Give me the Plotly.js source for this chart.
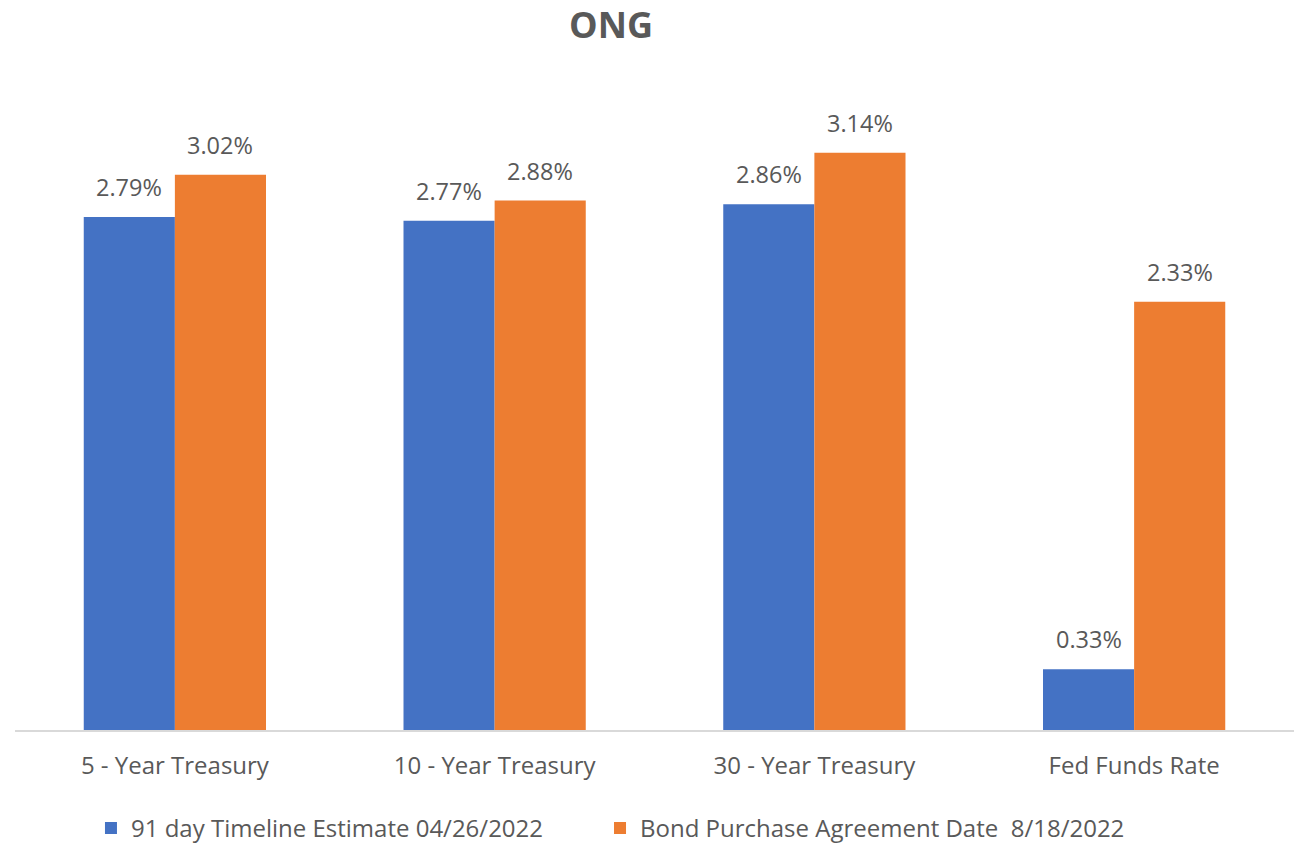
<!DOCTYPE html>
<html>
<head>
<meta charset="utf-8">
<script src="https://cdn.plot.ly/plotly-3.0.1.min.js"></script>
<style>html,body{margin:0;padding:0;background:#fff;}#chart{width:1296px;height:845px;}</style>
</head>
<body>
<div id="chart"></div>
<script>
const categories = ["5 - Year Treasury", "10 - Year Treasury", "30 - Year Treasury", "Fed Funds Rate"];
const estimateValues = [0.0279, 0.0277, 0.0286, 0.0033];
const agreementValues = [0.0302, 0.0288, 0.0314, 0.0233];
const seriesNames = ["91 day Timeline Estimate 04/26/2022", "Bond Purchase Agreement Date  8/18/2022"];
const seriesColors = ["#4472C4", "#ED7D31"];

const textColor = "#595959";
const fontFamily = "'Open Sans', sans-serif";
const legendIds = ["legend", "legend2"];

const traces = [estimateValues, agreementValues].map((vals, i) => ({
  type: "bar",
  name: seriesNames[i],
  x: categories,
  y: vals,
  marker: {color: seriesColors[i]},
  legend: legendIds[i],
  hoverinfo: "skip"
}));

// Data labels placed above each bar
const plotLeft = 15, plotRight = 1294;
const catWidth = (plotRight - plotLeft) / categories.length;
const bargap = 0.43;
const barWidthPx = catWidth * (1 - bargap) / 2;
const annotations = [];
[estimateValues, agreementValues].forEach((vals, i) => {
  vals.forEach((v, j) => {
    annotations.push({
      x: categories[j], y: v, xref: "x", yref: "y",
      text: (v * 100).toFixed(2) + "%",
      showarrow: false,
      xshift: (i === 0 ? -1 : 1) * barWidthPx / 2,
      yshift: 30,
      yanchor: "middle",
      font: {family: fontFamily, size: 23.5, color: textColor}
    });
  });
});

const legendBase = {orientation: "h", xanchor: "left", y: -0.149, yanchor: "middle",
                    font: {family: fontFamily, size: 24, color: textColor}};

const layout = {
  width: 1296, height: 845,
  paper_bgcolor: "#ffffff", plot_bgcolor: "#ffffff",
  margin: {l: plotLeft, r: 1296 - plotRight, t: 70, b: 845 - 730.5, autoexpand: false},
  title: {text: "<b>ONG</b>", x: 0.4715, xanchor: "center", y: 0.97, yanchor: "middle",
          font: {family: fontFamily, size: 36, color: textColor}},
  barmode: "group",
  bargap: bargap,
  bargroupgap: 0,
  showlegend: true,
  legend: Object.assign({}, legendBase, {x: 0.0594}),
  legend2: Object.assign({}, legendBase, {x: 0.4574}),
  xaxis: {
    type: "category",
    showline: true, linecolor: "#d9d9d9", linewidth: 1.5,
    ticks: "", ticklabelstandoff: 14,
    tickfont: {family: fontFamily, size: 24, color: textColor},
    showgrid: false, zeroline: false, fixedrange: true
  },
  yaxis: {
    range: [0, 0.0359],
    showticklabels: false, showgrid: false, zeroline: false, showline: false, ticks: "",
    fixedrange: true
  },
  annotations: annotations
};

Plotly.newPlot("chart", traces, layout, {displayModeBar: false, staticPlot: true});
</script>
</body>
</html>
